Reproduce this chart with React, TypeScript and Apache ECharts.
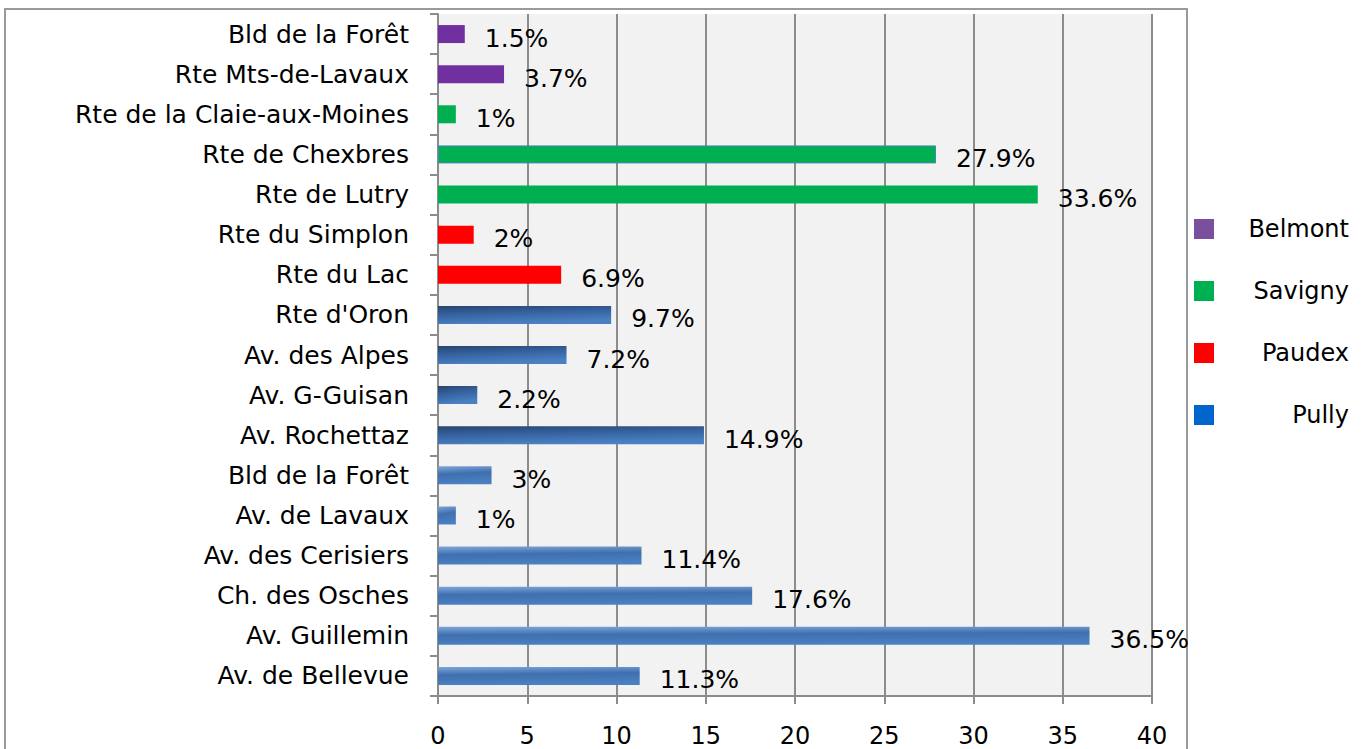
import React, { useEffect, useRef } from "react";
import * as echarts from "echarts";

const categories = [
  "Av. de Bellevue",
  "Av. Guillemin",
  "Ch. des Osches",
  "Av. des Cerisiers",
  "Av. de Lavaux",
  "Bld de la Forêt",
  "Av. Rochettaz",
  "Av. G-Guisan",
  "Av. des Alpes",
  "Rte d'Oron",
  "Rte du Lac",
  "Rte du Simplon",
  "Rte de Lutry",
  "Rte de Chexbres",
  "Rte de la Claie-aux-Moines",
  "Rte Mts-de-Lavaux",
  "Bld de la Forêt",
];

const pully = [11.3, 36.5, 17.6, 11.4, 1, 3, 14.9, 2.2, 7.2, 9.7, null, null, null, null, null, null, null];
const paudex = [null, null, null, null, null, null, null, null, null, null, 6.9, 2, null, null, null, null, null];
const savigny = [null, null, null, null, null, null, null, null, null, null, null, null, 33.6, 27.9, 1, null, null];
const belmont = [null, null, null, null, null, null, null, null, null, null, null, null, null, null, null, 3.7, 1.5];

const xTicks = { min: 0, max: 40, interval: 5 };
const seriesNames = ["Belmont", "Savigny", "Paudex", "Pully"];
const darkPullyIdx = [6, 7, 8, 9];

const FONT = "DejaVu Sans";

const lightGrad = () =>
  new echarts.graphic.LinearGradient(0, 0, 0.15, 1, [
    { offset: 0, color: "#7ea6da" },
    { offset: 0.45, color: "#3f6fae" },
    { offset: 1, color: "#4a80c2" },
  ]);
const darkGrad = () =>
  new echarts.graphic.LinearGradient(0, 0, 0.3, 1, [
    { offset: 0, color: "#27456f" },
    { offset: 0.5, color: "#3764a2" },
    { offset: 1, color: "#4a80c2" },
  ]);

export default function App() {
  const ref = useRef<HTMLDivElement>(null);
  useEffect(() => {
    if (!ref.current) return;
    const chart = echarts.init(ref.current, null, { renderer: "svg" });
    const label = {
      show: true,
      position: "right",
      distance: 20,
      offset: [0, 4],
      formatter: "{c}%",
      color: "#000",
      fontFamily: FONT,
      fontSize: 25,
    };
    const pullyData = pully.map((v, i) => ({
      value: v,
      itemStyle: { color: darkPullyIdx.includes(i) ? darkGrad() : lightGrad() },
    }));
    const savignyData = savigny.map((v, i) =>
      i === 13
        ? { value: v, itemStyle: { color: "#00B050", borderColor: "#4f81bd", borderWidth: 1 } }
        : { value: v }
    );
    chart.setOption({
      animation: false,
      backgroundColor: "#ffffff",
      textStyle: { fontFamily: FONT },
      graphic: [
        {
          type: "rect",
          shape: { x: 5, y: 9, width: 1182, height: 800 },
          style: { fill: "none", stroke: "#9a9a9a", lineWidth: 2 },
          silent: true,
          z: -1,
        },
      ],
      grid: {
        left: 438,
        right: 215,
        top: 14,
        bottom: 53,
        show: true,
        backgroundColor: "#f2f2f2",
        borderWidth: 0,
      },
      legend: {
        orient: "vertical",
        left: 1189,
        top: 212,
        itemWidth: 20,
        itemHeight: 20,
        itemGap: 38,
        icon: "rect",
        data: [
          { name: "Belmont", itemStyle: { color: "#7a4f9d" } },
          { name: "Savigny", itemStyle: { color: "#00B050" } },
          { name: "Paudex", itemStyle: { color: "#FF0000" } },
          { name: "Pully", itemStyle: { color: "#0066CC" } },
        ],
        formatter: "{a|{name}}",
        textStyle: {
          rich: {
            a: {
              width: 130,
              align: "right",
              fontSize: 24,
              lineHeight: 24,
              fontFamily: FONT,
              color: "#000",
            },
          },
        },
      },
      xAxis: {
        type: "value",
        min: xTicks.min,
        max: xTicks.max,
        interval: xTicks.interval,
        axisLine: { show: true, lineStyle: { color: "#8c8c8c", width: 2 } },
        axisTick: { show: true, length: 8, lineStyle: { color: "#8c8c8c", width: 2 } },
        splitLine: { show: true, lineStyle: { color: "#8c8c8c", width: 2 } },
        axisLabel: { color: "#000", fontSize: 24, fontFamily: FONT, margin: 28 },
      },
      yAxis: {
        type: "category",
        data: categories,
        axisLine: { show: true, lineStyle: { color: "#8c8c8c", width: 2 } },
        axisTick: { show: true, length: 8, lineStyle: { color: "#8c8c8c", width: 2 } },
        axisLabel: { color: "#000", fontSize: 25, fontFamily: FONT, margin: 29, interval: 0 },
      },
      series: [
        {
          name: seriesNames[0],
          type: "bar",
          stack: "all",
          barWidth: 18,
          data: belmont,
          itemStyle: { color: "#7030A0" },
          label,
        },
        {
          name: seriesNames[1],
          type: "bar",
          stack: "all",
          barWidth: 18,
          data: savignyData,
          itemStyle: { color: "#00B050" },
          label,
        },
        {
          name: seriesNames[2],
          type: "bar",
          stack: "all",
          barWidth: 18,
          data: paudex,
          itemStyle: { color: "#FF0000" },
          label,
        },
        {
          name: seriesNames[3],
          type: "bar",
          stack: "all",
          barWidth: 18,
          data: pullyData,
          itemStyle: { color: "#4a7ebf" },
          label,
        },
      ],
    });
    return () => chart.dispose();
  }, []);
  return (
    <div
      ref={ref}
      style={{ position: "fixed", left: 0, top: 0, width: 1367, height: 749 }}
    />
  );
}
